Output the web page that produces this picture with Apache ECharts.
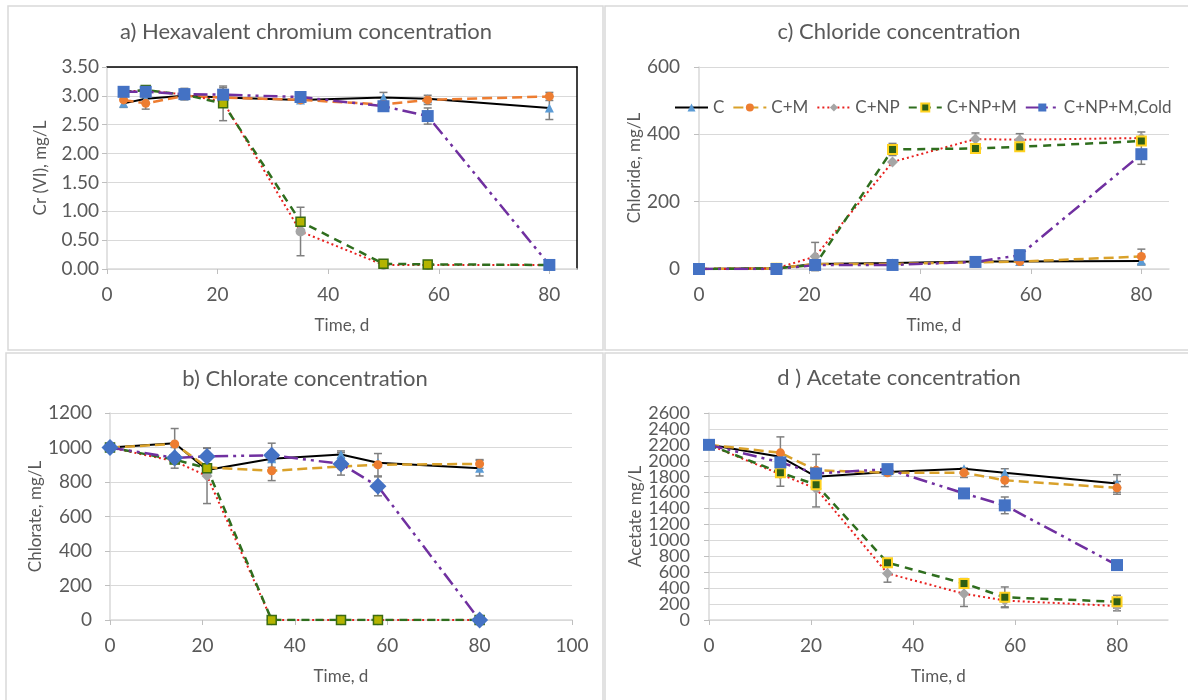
<!DOCTYPE html>
<html>
<head>
<meta charset="utf-8">
<script src="https://cdn.jsdelivr.net/npm/echarts@6/dist/echarts.min.js"></script>
<style>
  html, body { margin: 0; padding: 0; background: #fff; }
  #chart { width: 1188px; height: 700px; }
</style>
</head>
<body>
<div id="chart"></div>
<script>
// Sampling days
const daysCr = [3, 7, 14, 21, 35, 50, 58, 80];
const days = [0, 14, 21, 35, 50, 58, 80];
const names = ['C', 'C+M', 'C+NP', 'C+NP+M', 'C+NP+M,Cold'];

// a) Hexavalent chromium, mg/L (mean, ± error)
const crC      = [2.87, 2.95, 3.00, 2.97, 2.93, 2.97, 2.95, 2.79];
const crCM     = [2.93, 2.87, 3.00, 2.97, 2.93, 2.85, 2.93, 2.99];
const crNP     = [3.07, 3.10, 3.02, 2.90, 0.65, 0.07, 0.07, 0.07];
const crNPM    = [3.07, 3.10, 3.02, 2.87, 0.82, 0.09, 0.08, 0.07];
const crCold   = [3.07, 3.07, 3.03, 3.02, 2.98, 2.82, 2.65, 0.07];
const crErrC    = [0.07, 0, 0, 0, 0, 0.09, 0, 0.20];
const crErrCM   = [0, 0.10, 0, 0, 0, 0, 0.08, 0.07];
const crErrNP   = [0, 0, 0, 0, 0.42, 0, 0, 0];
const crErrNPM  = [0, 0, 0, 0.30, 0, 0, 0, 0];
const crErrCold = [0, 0.05, 0.10, 0.12, 0, 0, 0.14, 0];

// c) Chloride, mg/L
const clC    = [0, 2, 15, 18, 22, 22, 24];
const clCM   = [0, 2, 15, 15, 20, 22, 37];
const clNP   = [0, 2, 37, 318, 386, 384, 389];
const clNPM  = [0, 2, 12, 355, 358, 363, 380];
const clCold = [0, 0, 12, 12, 21, 41, 341];
const clErrC    = [0, 0, 0, 0, 0, 0, 12];
const clErrCM   = [0, 0, 0, 0, 0, 0, 22];
const clErrNP   = [0, 0, 42, 0, 18, 18, 18];
const clErrNPM  = [0, 0, 0, 18, 0, 0, 0];
const clErrCold = [0, 0, 0, 0, 15, 15, 30];

// b) Chlorate, mg/L
const coC    = [1000, 1025, 870, 935, 960, 912, 880];
const coCM   = [1000, 1020, 885, 865, 890, 900, 905];
const coNP   = [1000, 920, 835, 0, 0, 0, 0];
const coNPM  = [1000, 930, 880, 0, 0, 0, 0];
const coCold = [1000, 940, 948, 955, 905, 775, 0];
const coErrC    = [0, 85, 0, 0, 20, 0, 45];
const coErrCM   = [0, 0, 0, 57, 0, 65, 25];
const coErrNP   = [0, 0, 160, 0, 0, 0, 0];
const coErrNPM  = [0, 0, 0, 0, 0, 0, 0];
const coErrCold = [0, 60, 50, 70, 65, 55, 0];

// d) Acetate, mg/L
const acC    = [2200, 2050, 1800, 1860, 1900, 1850, 1715];
const acCM   = [2200, 2100, 1880, 1850, 1850, 1755, 1660];
const acNP   = [2200, 1830, 1650, 585, 330, 245, 175];
const acNPM  = [2200, 1850, 1700, 720, 460, 285, 230];
const acCold = [2200, 1980, 1840, 1895, 1590, 1440, 690];
const acErrC    = [0, 0, 0, 0, 0, 50, 110];
const acErrCM   = [0, 200, 200, 0, 60, 80, 80];
const acErrNP   = [0, 0, 230, 110, 160, 80, 60];
const acErrNPM  = [0, 170, 0, 0, 60, 130, 80];
const acErrCold = [0, 0, 0, 50, 0, 105, 0];

const FONT = 'Lato, "Open Sans", sans-serif';
const TXT = '#595959';
const GRIDC = '#D9D9D9';

const baseLook = {
  'C':           { line: { color: '#000000', width: 2, type: 'solid' }, symbol: 'triangle', size: 9, item: { color: '#5B9BD5' } },
  'C+M':         { line: { color: '#D9A12A', width: 2.5, type: [10, 5] }, symbol: 'circle', size: 9, item: { color: '#ED7D31' } },
  'C+NP':        { line: { color: '#E8201E', width: 2, type: [2, 3] }, symbol: 'diamond', size: 11, item: { color: '#A5A5A5' } },
  'C+NP+M':      { line: { color: '#2F6E1E', width: 2.5, type: [8, 6] }, symbol: 'rect', size: 9, item: { color: '#2F5F14', borderColor: '#FFD21F', borderWidth: 2 } },
  'C+NP+M,Cold': { line: { color: '#7030A0', width: 2.5, type: [14, 5, 3, 5, 3, 5] }, symbol: 'rect', size: 12, item: { color: '#4472C4' } }
};

function look(panel, name) {
  const l = JSON.parse(JSON.stringify(baseLook[name]));
  if (panel === 'a' || panel === 'b') {
    if (name === 'C+NP+M') l.item = { color: '#B4B400', borderColor: '#3A6B12', borderWidth: 1.5 };
  }
  if (panel === 'a') {
    if (name === 'C+M') l.line.color = '#ED7D31';
    if (name === 'C+NP') { l.symbol = 'circle'; l.size = 10; }
  }
  if (panel === 'b' && name === 'C+NP+M,Cold') { l.symbol = 'diamond'; l.size = 17; }
  return l;
}

function pairs(xs, ys) { return xs.map((x, i) => [x, ys[i]]); }

function lineSeries(panel, idx, name, xs, ys) {
  const l = look(panel, name);
  return {
    type: 'line', name, xAxisIndex: idx, yAxisIndex: idx,
    data: pairs(xs, ys),
    symbol: l.symbol, symbolSize: l.size, showAllSymbol: true,
    lineStyle: l.line, itemStyle: l.item,
    emphasis: { disabled: true }, animation: false, z: 3
  };
}

function renderErr(params, api) {
  const x = api.value(0), y = api.value(1), e = api.value(2);
  const hi = api.coord([x, y + e]);
  const lo = api.coord([x, y - e]);
  const w = 4;
  const st = { stroke: '#7F7F7F', lineWidth: 1.5 };
  return {
    type: 'group',
    children: [
      { type: 'line', shape: { x1: hi[0], y1: hi[1], x2: lo[0], y2: lo[1] }, style: st },
      { type: 'line', shape: { x1: hi[0] - w, y1: hi[1], x2: hi[0] + w, y2: hi[1] }, style: st },
      { type: 'line', shape: { x1: lo[0] - w, y1: lo[1], x2: lo[0] + w, y2: lo[1] }, style: st }
    ]
  };
}

function errSeries(idx, xs, ys, es) {
  const data = [];
  xs.forEach((x, i) => { if (es[i] > 0) data.push([x, ys[i], es[i]]); });
  return {
    type: 'custom', xAxisIndex: idx, yAxisIndex: idx, renderItem: renderErr,
    data, encode: { x: 0, y: 1 }, silent: true, animation: false, z: 2, clip: false
  };
}

function panelSeries(panel, idx, xs, sets, errs) {
  const out = [];
  names.forEach((n, i) => {
    out.push(errSeries(idx, xs, sets[i], errs[i]));
    out.push(lineSeries(panel, idx, n, xs, sets[i]));
  });
  return out;
}

const labelStyle = { color: TXT, fontSize: 19, fontFamily: FONT };
const nameStyle = { color: TXT, fontSize: 17, fontFamily: FONT };

function xAxis(grid, max, gap) {
  return {
    type: 'value', gridIndex: grid, min: 0, max, interval: 20,
    name: 'Time, d', nameLocation: 'middle', nameGap: gap, nameTextStyle: nameStyle,
    axisLine: { show: true, onZero: false, lineStyle: { color: GRIDC, width: 1.5 } },
    axisTick: { show: true, length: 5, lineStyle: { color: '#BFBFBF' } },
    axisLabel: Object.assign({ margin: 16, showMaxLabel: max % 20 === 0, showMinLabel: true, hideOverlap: false }, labelStyle),
    splitLine: { show: false }
  };
}

function yAxis(grid, max, interval, name, gap, margin, fmt, size) {
  return {
    type: 'value', gridIndex: grid, min: 0, max, interval,
    name, nameLocation: 'middle', nameGap: gap, nameTextStyle: nameStyle,
    axisLine: { show: true, onZero: false, lineStyle: { color: GRIDC, width: 1.5 } },
    axisTick: { show: true, length: 5, lineStyle: { color: '#BFBFBF' } },
    axisLabel: Object.assign({}, labelStyle, {
      margin, formatter: fmt, fontSize: size,
      showMinLabel: true, showMaxLabel: true, hideOverlap: false
    }),
    splitLine: { show: true, lineStyle: { color: GRIDC, width: 1.2 } }
  };
}

// Acetate ticks are packed tightly; the inner labels go on a twin axis so none get dropped
function innerLabelAxis(grid, max, interval, margin, size) {
  return {
    type: 'value', gridIndex: grid, min: 0, max, interval, position: 'left',
    axisLine: { show: false, onZero: false }, axisTick: { show: false }, splitLine: { show: false },
    axisLabel: Object.assign({}, labelStyle, {
      margin, fontSize: size, showMinLabel: false, showMaxLabel: false, hideOverlap: false,
      formatter: v => (v === interval || v === max - interval) ? String(v) : ''
    })
  };
}

const series = [].concat(
  panelSeries('c', 1, days, [clC, clCM, clNP, clNPM, clCold], [clErrC, clErrCM, clErrNP, clErrNPM, clErrCold]),
  panelSeries('a', 0, daysCr, [crC, crCM, crNP, crNPM, crCold], [crErrC, crErrCM, crErrNP, crErrNPM, crErrCold]),
  panelSeries('b', 2, days, [coC, coCM, coNP, coNPM, coCold], [coErrC, coErrCM, coErrNP, coErrNPM, coErrCold]),
  panelSeries('d', 3, days, [acC, acCM, acNP, acNPM, acCold], [acErrC, acErrCM, acErrNP, acErrNPM, acErrCold])
);

const titles = [
  { text: 'a) Hexavalent chromium concentration', x: 306, y: 32 },
  { text: 'c) Chloride concentration', x: 899, y: 32 },
  { text: 'b) Chlorate concentration', x: 305, y: 379 },
  { text: 'd ) Acetate concentration', x: 899, y: 378 }
];

const frames = [
  { x: 8, y: 6, width: 595, height: 344 },
  { x: 605, y: 6, width: 600, height: 344 },
  { x: 6, y: 353, width: 597, height: 360 },
  { x: 605, y: 353, width: 600, height: 360 }
];

const chart = echarts.init(document.getElementById('chart'), null, { renderer: 'canvas' });
chart.setOption({
  backgroundColor: '#ffffff',
  animation: false,
  textStyle: { fontFamily: FONT },
  grid: [
    { left: 107, top: 67, width: 470, height: 202 },
    { left: 699, top: 67, width: 470, height: 202 },
    { left: 110, top: 413, width: 462, height: 207 },
    { left: 709, top: 413, width: 459, height: 207 }
  ],
  xAxis: [
    xAxis(0, 85, 48),
    xAxis(1, 85, 48),
    xAxis(2, 100, 48),
    xAxis(3, 90, 48),
    {
      type: 'value', gridIndex: 0, min: 0, max: 85, position: 'top',
      axisLine: { show: true, onZero: false, lineStyle: { color: '#000', width: 1.5 } },
      axisTick: { show: false }, axisLabel: { show: false }, splitLine: { show: false }
    }
  ],
  yAxis: [
    yAxis(0, 3.5, 0.5, 'Cr (VI), mg/L', 58, 8, v => v.toFixed(2), 19),
    yAxis(1, 600, 200, 'Chloride, mg/L', 53, 19, v => String(v), 19),
    yAxis(2, 1200, 200, 'Chlorate, mg/L', 63, 18, v => String(v), 19),
    yAxis(3, 2600, 200, 'Acetate mg/L', 64, 19, v => String(v), 18),
    {
      type: 'value', gridIndex: 0, min: 0, max: 3.5, position: 'right',
      axisLine: { show: true, onZero: false, lineStyle: { color: '#000', width: 1.5 } },
      axisTick: { show: false }, axisLabel: { show: false }, splitLine: { show: false }
    },
    innerLabelAxis(3, 2600, 200, 19, 18)
  ],
  legend: {
    data: names, left: 674, top: 99, width: 512, padding: 0,
    itemWidth: 33, itemHeight: 10, itemGap: 8, selectedMode: false,
    textStyle: { color: TXT, fontSize: 17, fontFamily: FONT }
  },
  graphic: [].concat(
    frames.map(f => ({
      type: 'rect', shape: f, silent: true, z: -10,
      style: { fill: 'none', stroke: GRIDC, lineWidth: 1.5 }
    })),
    titles.map(t => ({
      type: 'text', x: t.x, y: t.y, silent: true,
      style: { text: t.text, fill: TXT, font: '22px ' + FONT, align: 'center', verticalAlign: 'middle' }
    }))
  ),
  series
});
</script>
</body>
</html>
